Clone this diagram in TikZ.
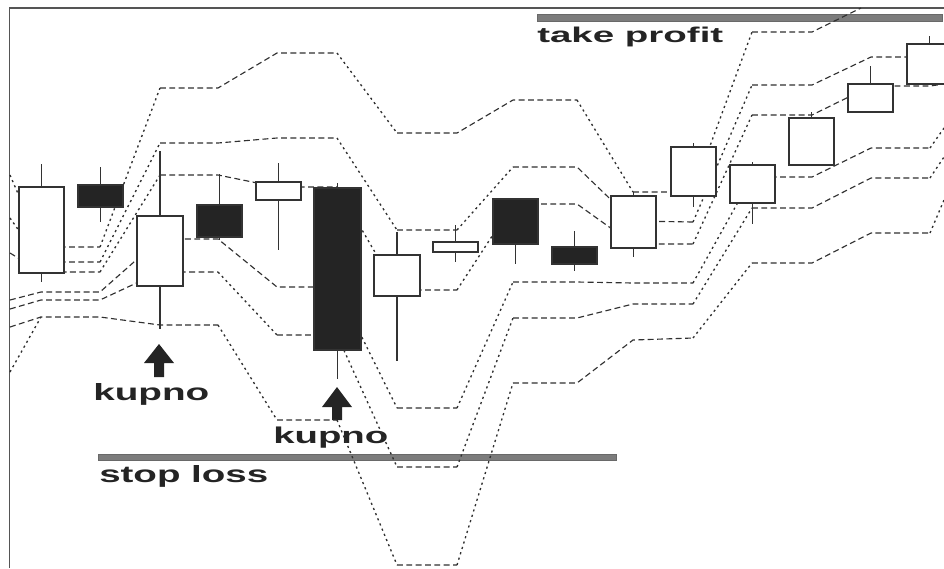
\documentclass[tikz,border=0pt]{standalone}
\usepackage{fontspec}
\setmainfont{Liberation Serif}
\newfontfamily\lab{Liberation Sans}
\definecolor{lc}{HTML}{303030}
\definecolor{cd}{HTML}{333333}
\definecolor{cf}{HTML}{242424}
\definecolor{barc}{HTML}{7C7C7C}
\definecolor{framec}{HTML}{555555}
\newcommand\cndl[7]{%
  \draw[wick] ({(#2+#3)/2},#6) -- ({(#2+#3)/2},#7);
  \draw[#1] (#2,#4) rectangle (#3,#5);}
\begin{document}
\begin{tikzpicture}[x=0.75pt,y=-0.75pt,
  envh/.style={draw=lc, line width=0.85pt, dash pattern=on 4.4pt off 2.6pt},
  envd/.style={draw=lc, line width=1pt, dash pattern=on 1.6pt off 2.6pt},
  wc/.style={draw=cd, fill=white, line width=1.15pt},
  bc/.style={draw=cd, fill=cf, line width=1.15pt},
  wick/.style={draw=cd, line width=1.15pt},
  bar/.style={fill=barc, draw=barc!85!black, line width=0.4pt},
  lbl/.style={inner sep=0pt, anchor=base west, text=cf},
  arr/.style={fill=cf, draw=none}]
\useasboundingbox (0,0) rectangle (944,568);
\fill[white] (0,0) rectangle (944,568);
\begin{scope}
\clip (0,0) rectangle (944,568);
% frame
\draw[framec, line width=1pt] (9.5,568) -- (9.5,8) -- (944,8);
% bars
\fill[bar] (537,14) rectangle (942,21);
\fill[bar] (98,454) rectangle (616,460);
% labels
\node[lbl] (tp) at (537,42) {\resizebox{139.5pt}{11.6pt}{\lab\bfseries take profit}};
\node[lbl] (k1) at (93,400) {\resizebox{87pt}{12.75pt}{\lab\bfseries kupno}};
\node[lbl] (k2) at (273,443) {\resizebox{86.25pt}{12.4pt}{\lab\bfseries kupno}};
\node[lbl] (sl) at (99,482) {\resizebox{126.75pt}{12.75pt}{\lab\bfseries stop loss}};
% arrows
\fill[arr] (159,344) -- (174,363) -- (164,363) -- (164,377) -- (154,377) -- (154,363) -- (144,363) -- cycle;
\fill[arr] (337,387) -- (352,407) -- (342,407) -- (342,420) -- (332,420) -- (332,407) -- (322,407) -- cycle;
% ---- envelope lines: flat / shallow parts (dashed) ----
% A
\draw[envh] (41,247) -- (100,247) (160,88) -- (218,88) -- (277,53) -- (337,53)
  (397,133) -- (457,133) -- (513,100) -- (577,100) (633,192) -- (693,192)
  (752,32) -- (812,32) -- (861,8);
% B
\draw[envh] (41,262) -- (100,262) (160,143) -- (218,143) -- (277,138) -- (337,138)
  (397,230) -- (457,230) (513,167) -- (577,167) -- (633,221) -- (693,222)
  (752,85) -- (812,85) -- (871,57) -- (930,57) -- (944,50);
% C
\draw[envh] (10,253) -- (41,272) -- (100,272) (160,175) -- (218,175) -- (277,187) -- (337,187)
  (397,290) -- (457,290) (513,204) -- (577,204) -- (633,244) -- (693,244)
  (752,115) -- (812,115) -- (871,86) -- (930,86) -- (944,84);
% D
\draw[envh] (10,300) -- (41,292) -- (100,292) -- (160,239) -- (218,239) -- (277,287) -- (337,287)
  (397,408) -- (457,408) (513,282) -- (577,282) -- (633,283) -- (693,283)
  (752,177) -- (812,177) -- (871,148) -- (930,148);
% E
\draw[envh] (10,309) -- (41,300) -- (100,300) -- (160,272) -- (218,272)
  (277,335) -- (337,335) (397,467) -- (457,467) (513,318) -- (577,318) -- (633,304) -- (693,304)
  (752,208) -- (812,208) -- (871,178) -- (930,178);
% F
\draw[envh] (10,327) -- (41,317) -- (100,317) -- (160,325) -- (218,325)
  (277,420) -- (337,420) (397,565) -- (457,565) (513,383) -- (577,383) -- (633,340) -- (693,338)
  (752,263) -- (812,263) -- (871,233) -- (930,233);
% ---- steep parts (dotted look) ----
\draw[envd] (10,175) -- (41,247) (100,247) -- (160,88) (337,53) -- (397,133)
  (577,100) -- (633,192) (693,192) -- (752,32);
\draw[envd] (10,218) -- (41,262) (100,262) -- (160,143) (337,138) -- (397,230)
  (457,230) -- (513,167) (693,222) -- (752,85);
\draw[envd] (100,272) -- (160,175) (337,187) -- (397,290) (457,290) -- (513,204)
  (693,244) -- (752,115);
\draw[envd] (337,287) -- (397,408) (457,408) -- (513,282) (693,283) -- (752,177)
  (930,148) -- (944,128);
\draw[envd] (218,272) -- (277,335) (337,335) -- (397,467) (457,467) -- (513,318)
  (693,304) -- (752,208) (930,178) -- (944,157);
\draw[envd] (218,325) -- (277,420) (337,420) -- (397,565) (457,565) -- (513,383)
  (693,338) -- (752,263) (930,233) -- (944,200);
\draw[envd] (10,372) -- (41,317);
% candles
\cndl{wc}{19}{64}{187}{273}{164}{282}
\cndl{bc}{78}{123}{185}{207}{167}{222}
\cndl{wc}{137}{183}{216}{286}{151}{329}
\cndl{bc}{197}{242}{205}{237}{174}{240}
\cndl{wc}{256}{301}{182}{200}{163}{250}
\cndl{bc}{314}{361}{188}{350}{183}{379}
\cndl{wc}{374}{420}{255}{296}{232}{361}
\cndl{wc}{433}{478}{242}{252}{225}{262}
\cndl{bc}{493}{538}{199}{244}{199}{264}
\cndl{bc}{552}{597}{247}{264}{231}{271}
\cndl{wc}{611}{656}{196}{248}{192}{257}
\cndl{wc}{671}{716}{147}{196}{143}{207}
\cndl{wc}{730}{775}{165}{203}{162}{224}
\cndl{wc}{789}{834}{118}{165}{112}{165}
\cndl{wc}{848}{893}{84}{112}{66}{112}
\cndl{wc}{907}{952}{44}{84}{36}{84}
\end{scope}
\end{tikzpicture}
\end{document}
